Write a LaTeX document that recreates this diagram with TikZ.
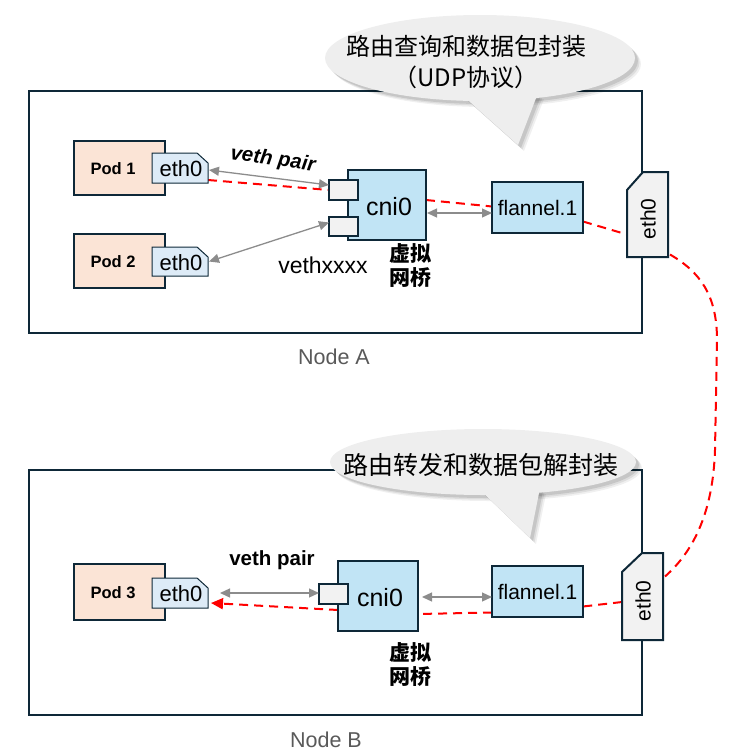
\documentclass[tikz,border=0pt]{standalone}
\usepackage{fontspec}
\setmainfont{Liberation Sans}
\newfontfamily\cjk{Noto Sans CJK SC}
\usetikzlibrary{arrows.meta,calc}
\definecolor{bord}{RGB}{14,40,56}
\definecolor{podfill}{RGB}{251,228,214}
\definecolor{tabfill}{RGB}{221,235,247}
\definecolor{cnifill}{RGB}{193,228,245}
\definecolor{portfill}{RGB}{242,242,242}
\definecolor{callfill}{RGB}{238,238,238}
\definecolor{arrgray}{RGB}{140,140,140}
\definecolor{labgray}{RGB}{89,89,89}
\pgfdeclarelayer{bg}
\pgfsetlayers{bg,main}
\begin{document}
\begin{tikzpicture}[x=1pt,y=-1pt,
  frame/.style={draw=bord,line width=2pt,inner sep=0pt,outer sep=0pt},
  box/.style={draw=bord,line width=2pt,inner sep=0pt,outer sep=0pt},
  tabn/.style={inner sep=0pt,outer sep=0pt},
  tabline/.style={draw=bord,line width=1pt,fill=tabfill},
  vline/.style={draw=bord,line width=2pt,fill=portfill},
  txt/.style={inner sep=0pt,font=\fontsize{22}{26}\selectfont},
  podtxt/.style={inner sep=0pt,font=\bfseries\fontsize{16.5}{19}\selectfont},
  bridge/.style={inner sep=0pt,align=center,font=\cjk\bfseries\fontsize{21}{24}\selectfont},
  lab/.style={inner sep=0pt,text=labgray,font=\fontsize{21.5}{25}\selectfont},
  calltxt/.style={inner sep=0pt,align=center,font=\cjk\fontsize{24}{31}\selectfont},
  reddash/.style={draw=red,line width=2pt,dash pattern=on 9pt off 6pt},
  garrow/.style={draw=arrgray,line width=1.3pt,{Triangle[length=10pt,width=9pt]}-{Triangle[length=10pt,width=9pt]}}
]
\useasboundingbox (0,0) rectangle (738,755);

% ---------- Node A components ----------
\node[box,fill=podfill,minimum width=91pt,minimum height=54pt] (pod1) at (119.5,168) {};
\node[podtxt] (pod1t) at (113,169) {Pod 1};
\node[tabn,minimum width=56pt,minimum height=30pt] (eth1) at (180,168) {};
\draw[tabline] (eth1.south west) -- (eth1.north west) -- ([xshift=-11pt]eth1.north east) -- ([yshift=-10pt]eth1.north east) -- (eth1.south east) -- cycle;
\node[txt] (eth1t) at (181,169) {eth0};

\node[box,fill=podfill,minimum width=91pt,minimum height=54pt] (pod2) at (119.5,261) {};
\node[podtxt] (pod2t) at (113,262) {Pod 2};
\node[tabn,minimum width=56pt,minimum height=29pt] (eth2) at (180,261.5) {};
\draw[tabline] (eth2.south west) -- (eth2.north west) -- ([xshift=-11pt]eth2.north east) -- ([yshift=-10pt]eth2.north east) -- (eth2.south east) -- cycle;
\node[txt] (eth2t) at (181,262.5) {eth0};

\node[box,fill=cnifill,minimum width=78pt,minimum height=70pt] (cniA) at (387,205) {};
\node[txt,font=\fontsize{25}{28}\selectfont] (cniAt) at (389,207) {cni0};
\node[box,fill=portfill,minimum width=29pt,minimum height=20pt] (portA1) at (343.5,190) {};
\node[box,fill=portfill,minimum width=29pt,minimum height=19pt] (portA2) at (343.5,226.5) {};

\node[box,fill=cnifill,minimum width=91pt,minimum height=51pt] (flanA) at (537.5,207.5) {};
\node[txt,font=\fontsize{21}{24}\selectfont] (flanAt) at (537.5,208) {flannel.1};

\node[tabn,minimum width=41pt,minimum height=85pt] (ethA) at (647.5,214.5) {};
\draw[vline] (ethA.south west) -- ([yshift=-18pt]ethA.north west) -- ([xshift=16pt]ethA.north west) -- (ethA.north east) -- (ethA.south east) -- cycle;
\node[txt,rotate=90,font=\fontsize{21}{24}\selectfont] (ethAt) at (648,219) {eth0};

\node[inner sep=0pt,rotate=-8,font=\bfseries\itshape\fontsize{20.5}{23}\selectfont] (vpA) at (273,160) {veth pair};
\node[txt,font=\fontsize{23}{26}\selectfont] (vethx) at (323,265) {vethxxxx};
\node[bridge] (brA) at (410,266) {虚拟\\网桥};

% ---------- Node B components ----------
\node[box,fill=podfill,minimum width=91pt,minimum height=56pt] (pod3) at (119.5,592) {};
\node[podtxt] (pod3t) at (113,593) {Pod 3};
\node[tabn,minimum width=56pt,minimum height=30pt] (eth3) at (180,593) {};
\draw[tabline] (eth3.south west) -- (eth3.north west) -- ([xshift=-11pt]eth3.north east) -- ([yshift=-10pt]eth3.north east) -- (eth3.south east) -- cycle;
\node[txt] (eth3t) at (181,594) {eth0};

\node[box,fill=cnifill,minimum width=80pt,minimum height=70pt] (cniB) at (378,596) {};
\node[txt,font=\fontsize{25}{28}\selectfont] (cniBt) at (380,598) {cni0};
\node[box,fill=portfill,minimum width=29pt,minimum height=20pt] (portB) at (333.5,594) {};

\node[box,fill=cnifill,minimum width=91pt,minimum height=51pt] (flanB) at (537.5,591.5) {};
\node[txt,font=\fontsize{21}{24}\selectfont] (flanBt) at (537.5,592) {flannel.1};

\node[tabn,minimum width=41pt,minimum height=87pt] (ethB) at (642.5,596.5) {};
\draw[vline] (ethB.south west) -- ([yshift=-19pt]ethB.north west) -- ([xshift=20pt]ethB.north west) -- (ethB.north east) -- (ethB.south east) -- cycle;
\node[txt,rotate=90,font=\fontsize{21}{24}\selectfont] (ethBt) at (643,601) {eth0};

\node[inner sep=0pt,font=\bfseries\fontsize{20.5}{23}\selectfont] (vpB) at (272,560) {veth pair};
\node[bridge] (brB) at (410,665) {虚拟\\网桥};

% ---------- gray arrows ----------
\draw[garrow] ([xshift=1pt,yshift=-2pt]eth1.east) -- ([yshift=5pt]portA1.west);
\draw[garrow] ([xshift=1pt]eth2.east) -- ([yshift=4pt]portA2.west);
\draw[garrow] ([xshift=1pt,yshift=-8pt]cniA.east) -- ([yshift=-5.5pt]flanA.west);
\draw[garrow] ([xshift=12pt]eth3.east) -- ([yshift=1pt]portB.west);
\draw[garrow] ([xshift=4pt,yshift=-1pt]cniB.east) -- ([yshift=-5.5pt]flanB.west);

% ---------- labels ----------
\node[lab] (labA) at (334,357) {Node A};
\node[lab] (labB) at (326,740) {Node B};

\begin{pgfonlayer}{bg}
\node[frame,minimum width=613pt,minimum height=242pt] (nodeA) at (335.5,212) {};
\node[frame,minimum width=613pt,minimum height=245pt] (nodeB) at (335.5,592.5) {};

% callout A
\foreach \s/\o in {6/0.06,4.5/0.08,3/0.10}{
  \fill[black,opacity=\o] (480+\s,58+\s) ellipse [x radius=155,y radius=43];
  \fill[black,opacity=\o] (462+\s,95+\s) -- (518+\s,145+\s) -- (538+\s,93+\s) -- cycle;
}
\fill[callfill] (480,58) ellipse [x radius=155,y radius=43];
\fill[callfill] (462,95) -- (518,145) -- (538,93) -- cycle;
\node[calltxt] (callA) at (466,62) {路由查询和数据包封装\\（UDP协议）};

% callout B
\foreach \s/\o in {6/0.06,4.5/0.08,3/0.10}{
  \fill[black,opacity=\o] (483+\s,462+\s) ellipse [x radius=153,y radius=33];
  \fill[black,opacity=\o] (478+\s,488+\s) -- (530+\s,538+\s) -- (540+\s,488+\s) -- cycle;
}
\fill[callfill] (483,462) ellipse [x radius=153,y radius=33];
\fill[callfill] (478,488) -- (530,538) -- (540,488) -- cycle;
\node[calltxt,font=\cjk\fontsize{25}{31}\selectfont] (callB) at (481,465) {路由转发和数据包解封装};

% red dashed route
\draw[reddash] ([yshift=-12pt]eth1.east) -- (portA1.west);
\draw[reddash] ([yshift=5pt]cniA.east) -- ([yshift=1pt]flanA.west);
\draw[reddash] ([yshift=-14pt]flanA.east) -- ([yshift=-20pt]ethA.west);
\draw[reddash] ([xshift=2pt,yshift=-40pt]ethA.east) .. controls (700,272) and (717,295) .. (717,340) -- (715,450) .. controls (713,510) and (695,550) .. ([xshift=2pt,yshift=20pt]ethB.east);
\draw[reddash] ([yshift=-5.5pt]ethB.west) -- ([yshift=-15pt]flanB.east);
\draw[reddash] ([yshift=-21pt]flanB.west) -- ([yshift=-18pt]cniB.east);
\draw[reddash,-{Triangle[length=12pt,width=11pt]}] ([yshift=-14pt]cniB.west) -- ([xshift=3pt,yshift=-10pt]eth3.east);
\end{pgfonlayer}
\end{tikzpicture}
\end{document}
